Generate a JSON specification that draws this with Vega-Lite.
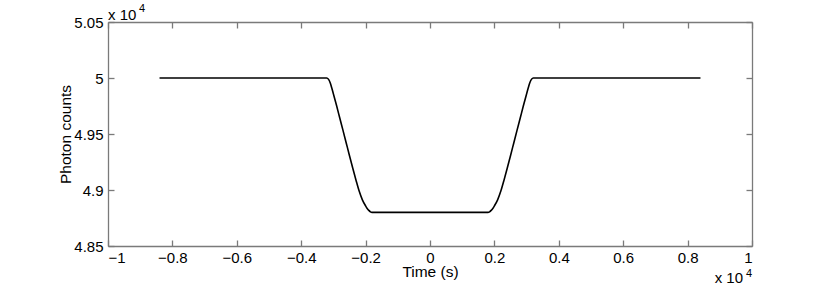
{
  "$schema": "https://vega.github.io/schema/vega-lite/v6.json",
  "width": 644,
  "height": 224,
  "autosize": "none",
  "padding": {"left": 108, "top": 22, "right": 78, "bottom": 40},
  "background": "white",
  "config": {
    "view": {"stroke": null},
    "font": "Liberation Sans",
    "axis": {
      "grid": false,
      "domainColor": "#7a7a7a",
      "domainWidth": 1.3,
      "tickColor": "#7a7a7a",
      "tickWidth": 1.3,
      "tickSize": -6,
      "labelFont": "Liberation Sans",
      "labelFontSize": 15,
      "labelColor": "#000000",
      "titleFont": "Liberation Sans",
      "titleFontSize": 15.5,
      "titleFontWeight": "normal",
      "titleColor": "#000000"
    }
  },
  "datasets": {
    "curve": [
      {"t": -8400, "counts": 50000},
      {"t": -3210, "counts": 50000},
      {"t": -3150, "counts": 49988},
      {"t": -3100, "counts": 49958},
      {"t": -3050, "counts": 49910},
      {"t": -3000, "counts": 49858},
      {"t": -2900, "counts": 49752},
      {"t": -2800, "counts": 49640},
      {"t": -2700, "counts": 49530},
      {"t": -2600, "counts": 49418},
      {"t": -2500, "counts": 49306},
      {"t": -2400, "counts": 49196},
      {"t": -2300, "counts": 49090},
      {"t": -2200, "counts": 48990},
      {"t": -2100, "counts": 48912},
      {"t": -2000, "counts": 48858},
      {"t": -1950, "counts": 48835},
      {"t": -1900, "counts": 48818},
      {"t": -1850, "counts": 48805},
      {"t": -1800, "counts": 48800},
      {"t": 1800, "counts": 48800},
      {"t": 1850, "counts": 48805},
      {"t": 1900, "counts": 48818},
      {"t": 1950, "counts": 48835},
      {"t": 2000, "counts": 48858},
      {"t": 2100, "counts": 48912},
      {"t": 2200, "counts": 48990},
      {"t": 2300, "counts": 49090},
      {"t": 2400, "counts": 49196},
      {"t": 2500, "counts": 49306},
      {"t": 2600, "counts": 49418},
      {"t": 2700, "counts": 49530},
      {"t": 2800, "counts": 49640},
      {"t": 2900, "counts": 49752},
      {"t": 3000, "counts": 49858},
      {"t": 3050, "counts": 49910},
      {"t": 3100, "counts": 49958},
      {"t": 3150, "counts": 49988},
      {"t": 3210, "counts": 50000},
      {"t": 8400, "counts": 50000}
    ],
    "note": [{"base": "x 10", "exp": "4"}]
  },
  "layer": [
    {
      "data": {"name": "curve"},
      "mark": {"type": "line", "color": "#000000", "strokeWidth": 1.6, "interpolate": "monotone"},
      "encoding": {
        "x": {
          "field": "t", "type": "quantitative",
          "scale": {"domain": [-10000, 10000], "nice": false},
          "axis": {
            "orient": "bottom",
            "values": [-10000, -8000, -6000, -4000, -2000, 0, 2000, 4000, 6000, 8000, 10000],
            "labelExpr": "format(datum.value / 10000, '')",
            "labelPadding": 10,
            "title": "Time (s)",
            "titlePadding": -1
          }
        },
        "y": {
          "field": "counts", "type": "quantitative",
          "scale": {"domain": [48500, 50500], "nice": false, "zero": false},
          "axis": {
            "orient": "left",
            "values": [48500, 49000, 49500, 50000, 50500],
            "labelExpr": "format(datum.value / 10000, '')",
            "labelPadding": 11,
            "title": "Photon counts",
            "titlePadding": 0
          }
        }
      }
    },
    {
      "data": {"name": "curve"},
      "mark": {"type": "line", "strokeOpacity": 0},
      "encoding": {
        "x": {
          "field": "t", "type": "quantitative",
          "axis": {
            "orient": "top",
            "values": [-10000, -8000, -6000, -4000, -2000, 0, 2000, 4000, 6000, 8000, 10000],
            "labels": false,
            "title": null
          }
        },
        "y": {
          "field": "counts", "type": "quantitative",
          "axis": {
            "orient": "right",
            "values": [48500, 49000, 49500, 50000, 50500],
            "labels": false,
            "title": null
          }
        }
      }
    },
    {
      "data": {"name": "note"},
      "mark": {"type": "text", "align": "left", "baseline": "alphabetic", "dy": -2, "fontSize": 15, "fontWeight": "normal", "font": "Liberation Sans", "color": "#000000"},
      "encoding": {
        "x": {"datum": -10000, "type": "quantitative", "axis": null},
        "y": {"datum": 50500, "type": "quantitative", "axis": null},
        "text": {"field": "base"}
      }
    },
    {
      "data": {"name": "note"},
      "mark": {"type": "text", "align": "left", "baseline": "alphabetic", "dx": 31, "dy": -10, "fontSize": 11, "fontWeight": "normal", "font": "Liberation Sans", "color": "#000000"},
      "encoding": {
        "x": {"datum": -10000, "type": "quantitative", "axis": null},
        "y": {"datum": 50500, "type": "quantitative", "axis": null},
        "text": {"field": "exp"}
      }
    },
    {
      "data": {"name": "note"},
      "mark": {"type": "text", "align": "right", "baseline": "alphabetic", "dx": -9, "dy": 37, "fontSize": 15, "fontWeight": "normal", "font": "Liberation Sans", "color": "#000000"},
      "encoding": {
        "x": {"datum": 10000, "type": "quantitative", "axis": null},
        "y": {"datum": 48500, "type": "quantitative", "axis": null},
        "text": {"field": "base"}
      }
    },
    {
      "data": {"name": "note"},
      "mark": {"type": "text", "align": "left", "baseline": "alphabetic", "dx": -6, "dy": 31, "fontSize": 11, "fontWeight": "normal", "font": "Liberation Sans", "color": "#000000"},
      "encoding": {
        "x": {"datum": 10000, "type": "quantitative", "axis": null},
        "y": {"datum": 48500, "type": "quantitative", "axis": null},
        "text": {"field": "exp"}
      }
    }
  ],
  "resolve": {"axis": {"x": "independent", "y": "independent"}}
}
